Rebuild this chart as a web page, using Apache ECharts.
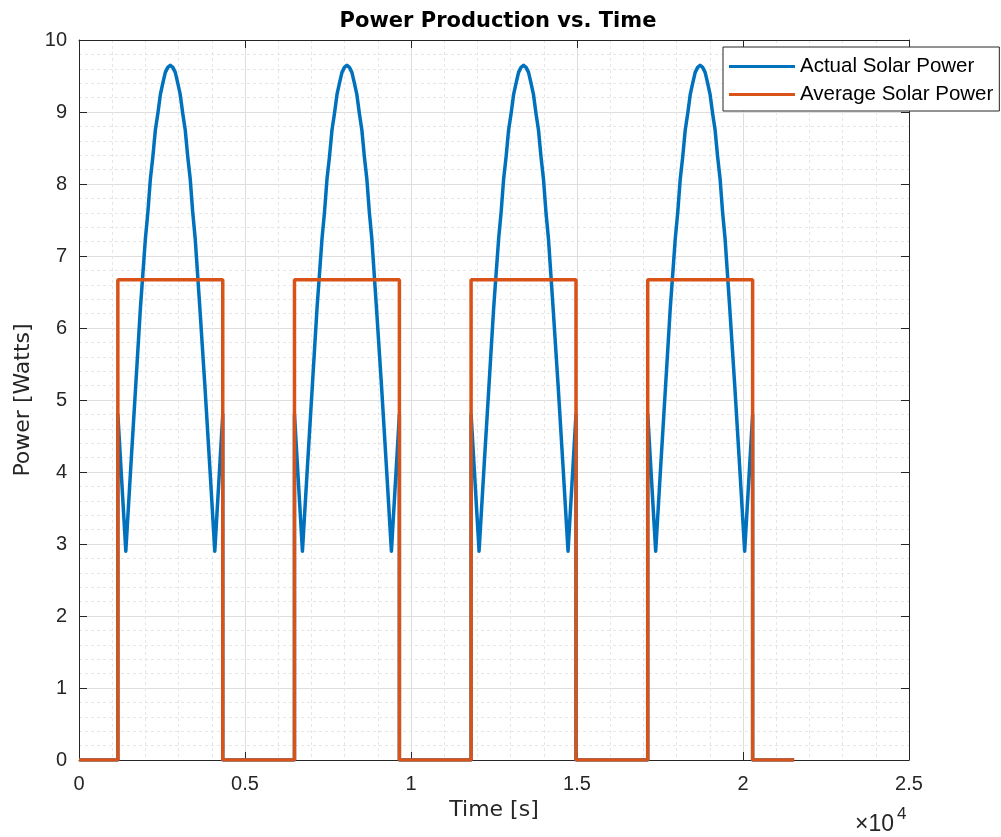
<!DOCTYPE html>
<html>
<head>
<meta charset="utf-8">
<script src="https://cdn.jsdelivr.net/npm/echarts@6/dist/echarts.min.js"></script>
<style>
html,body{margin:0;padding:0;background:#fff;}
#chart{width:1001px;height:837px;}
</style>
</head>
<body>
<div id="chart"></div>
<script>
// ---- data ----
const xTickLabels = ['0', '0.5', '1', '1.5', '2', '2.5'];
const yTickLabels = ['0','1','2','3','4','5','6','7','8','9','10'];

const actualTime = [
  0,
  1170, 1170, 1410, 1560, 1710, 1850, 2000, 2075, 2150, 2225, 2300, 2375, 2450, 2525, 2600, 2675, 2750, 2825, 2900, 2975, 3050, 3125, 3200, 3275, 3350, 3425, 3500, 3640, 3790, 3940, 4090, 4330, 4330,
  6490, 6490, 6730, 6880, 7030, 7170, 7320, 7395, 7470, 7545, 7620, 7695, 7770, 7845, 7920, 7995, 8070, 8145, 8220, 8295, 8370, 8445, 8520, 8595, 8670, 8745, 8820, 8960, 9110, 9260, 9410, 9650, 9650,
  11810, 11810, 12050, 12200, 12350, 12490, 12640, 12715, 12790, 12865, 12940, 13015, 13090, 13165, 13240, 13315, 13390, 13465, 13540, 13615, 13690, 13765, 13840, 13915, 13990, 14065, 14140, 14280, 14430, 14580, 14730, 14970, 14970,
  17130, 17130, 17370, 17520, 17670, 17810, 17960, 18035, 18110, 18185, 18260, 18335, 18410, 18485, 18560, 18635, 18710, 18785, 18860, 18935, 19010, 19085, 19160, 19235, 19310, 19385, 19460, 19600, 19750, 19900, 20050, 20290, 20290,
  21540
];
const actualPower = [
  0,
  0, 4.8, 2.9, 4.07, 5.21, 6.28, 7.24, 7.61, 8.07, 8.38, 8.75, 8.98, 9.24, 9.40, 9.55, 9.62, 9.65, 9.62, 9.55, 9.40, 9.24, 8.98, 8.75, 8.38, 8.07, 7.61, 7.24, 6.28, 5.21, 4.07, 2.9, 4.8, 0,
  0, 4.8, 2.9, 4.07, 5.21, 6.28, 7.24, 7.61, 8.07, 8.38, 8.75, 8.98, 9.24, 9.40, 9.55, 9.62, 9.65, 9.62, 9.55, 9.40, 9.24, 8.98, 8.75, 8.38, 8.07, 7.61, 7.24, 6.28, 5.21, 4.07, 2.9, 4.8, 0,
  0, 4.8, 2.9, 4.07, 5.21, 6.28, 7.24, 7.61, 8.07, 8.38, 8.75, 8.98, 9.24, 9.40, 9.55, 9.62, 9.65, 9.62, 9.55, 9.40, 9.24, 8.98, 8.75, 8.38, 8.07, 7.61, 7.24, 6.28, 5.21, 4.07, 2.9, 4.8, 0,
  0, 4.8, 2.9, 4.07, 5.21, 6.28, 7.24, 7.61, 8.07, 8.38, 8.75, 8.98, 9.24, 9.40, 9.55, 9.62, 9.65, 9.62, 9.55, 9.40, 9.24, 8.98, 8.75, 8.38, 8.07, 7.61, 7.24, 6.28, 5.21, 4.07, 2.9, 4.8, 0,
  0
];

const averageTime = [0, 1170, 1170, 4330, 4330, 6490, 6490, 9650, 9650, 11810, 11810, 14970, 14970, 17130, 17130, 20290, 20290, 21540];
const averagePower = [0, 0, 6.67, 6.67, 0, 0, 6.67, 6.67, 0, 0, 6.67, 6.67, 0, 0, 6.67, 6.67, 0, 0];

// ---- chart ----
const FONT = 'Liberation Sans, Arial, Helvetica, sans-serif';
const WIDE = 'DejaVu Sans, Liberation Sans, sans-serif';
const AX = '#262626';
const chart = echarts.init(document.getElementById('chart'), null, {renderer: 'canvas'});

const gridMajor = {show: true, lineStyle: {color: '#dedede', width: 1}};
const gridMinor = {show: true, lineStyle: {color: '#e6e6e6', width: 1, type: [3, 3]}};

const xLab = (v) => xTickLabels[Math.round(v / 5000)];
const yLab = (v) => yTickLabels[Math.round(v)];

chart.setOption({
  backgroundColor: '#ffffff',
  animation: false,
  title: {
    text: 'Power Production vs. Time',
    left: 493, top: 6, textAlign: 'center',
    textStyle: {fontFamily: WIDE, fontWeight: 'bold', fontSize: 21, color: '#000'}
  },
  grid: {left: 79, right: 92, top: 40, bottom: 77, show: false},
  legend: {
    orient: 'vertical',
    left: 723, top: 47,
    padding: [9, 6, 6, 6],
    itemGap: 7,
    itemWidth: 66, itemHeight: 3,
    icon: 'rect',
    backgroundColor: '#ffffff',
    borderColor: AX, borderWidth: 1, borderRadius: 0,
    textStyle: {fontFamily: FONT, fontSize: 20.5, color: '#000', padding: [0, 0, 0, 0]},
    data: ['Actual Solar Power', 'Average Solar Power']
  },
  xAxis: [{
    type: 'value', min: 0, max: 25000, interval: 5000,
    name: 'Time [s]', nameLocation: 'middle', nameGap: 35,
    nameTextStyle: {fontFamily: WIDE, fontSize: 22, color: AX},
    axisLine: {show: true, onZero: false, lineStyle: {color: AX, width: 1}},
    axisTick: {show: true, inside: true, length: 8, lineStyle: {color: AX}},
    axisLabel: {formatter: xLab, fontFamily: FONT, fontSize: 20, color: AX, margin: 14},
    splitLine: gridMajor,
    minorTick: {show: false, splitNumber: 5},
    minorSplitLine: gridMinor
  }, {
    type: 'value', min: 0, max: 25000, interval: 5000, position: 'top',
    axisLine: {show: true, onZero: false, lineStyle: {color: AX, width: 1}},
    axisTick: {show: true, inside: true, length: 8, lineStyle: {color: AX}},
    axisLabel: {show: false}, splitLine: {show: false}
  }],
  yAxis: [{
    type: 'value', min: 0, max: 10, interval: 1,
    name: 'Power [Watts]', nameLocation: 'middle', nameGap: 45,
    nameTextStyle: {fontFamily: WIDE, fontSize: 22, color: AX},
    axisLine: {show: true, onZero: false, lineStyle: {color: AX, width: 1}},
    axisTick: {show: true, inside: true, length: 8, lineStyle: {color: AX}},
    axisLabel: {formatter: yLab, fontFamily: FONT, fontSize: 20, color: AX, margin: 12},
    splitLine: gridMajor,
    minorTick: {show: false, splitNumber: 5},
    minorSplitLine: gridMinor
  }, {
    type: 'value', min: 0, max: 10, interval: 1, position: 'right',
    axisLine: {show: true, onZero: false, lineStyle: {color: AX, width: 1}},
    axisTick: {show: true, inside: true, length: 8, lineStyle: {color: AX}},
    axisLabel: {show: false}, splitLine: {show: false}
  }],
  graphic: [
    {type: 'text', left: 855, top: 813, style: {text: '×10', fontFamily: FONT, fontSize: 23, fill: AX}},
    {type: 'text', left: 897, top: 806, style: {text: '4', fontFamily: FONT, fontSize: 17, fill: AX}}
  ],
  series: [{
    name: 'Actual Solar Power', type: 'line',
    xAxisIndex: 0, yAxisIndex: 0,
    showSymbol: false, symbol: 'none',
    lineStyle: {color: '#0072BD', width: 3.5, join: 'round'},
    itemStyle: {color: '#0072BD'},
    data: actualTime.map((t, i) => [t, actualPower[i]])
  }, {
    name: 'Average Solar Power', type: 'line',
    xAxisIndex: 0, yAxisIndex: 0,
    showSymbol: false, symbol: 'none',
    lineStyle: {color: '#D95319', width: 3.5},
    itemStyle: {color: '#D95319'},
    data: averageTime.map((t, i) => [t, averagePower[i]])
  }]
});
</script>
</body>
</html>
